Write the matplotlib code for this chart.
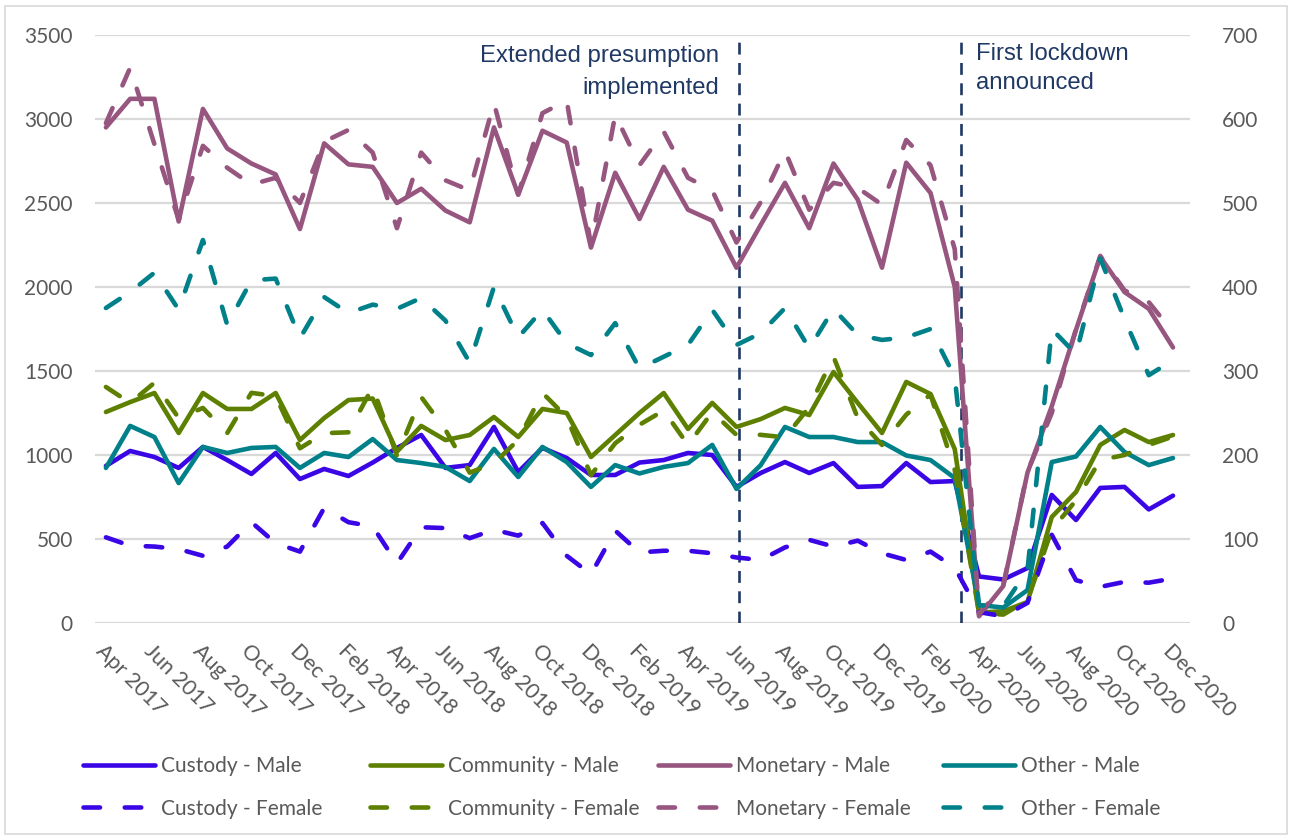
import matplotlib
matplotlib.use("Agg")
import matplotlib.pyplot as plt
from matplotlib.patches import Rectangle

# ---------------- data ----------------
months = ["Apr 2017", "May 2017", "Jun 2017", "Jul 2017", "Aug 2017", "Sep 2017", "Oct 2017", "Nov 2017",
          "Dec 2017", "Jan 2018", "Feb 2018", "Mar 2018", "Apr 2018", "May 2018", "Jun 2018", "Jul 2018",
          "Aug 2018", "Sep 2018", "Oct 2018", "Nov 2018", "Dec 2018", "Jan 2019", "Feb 2019", "Mar 2019",
          "Apr 2019", "May 2019", "Jun 2019", "Jul 2019", "Aug 2019", "Sep 2019", "Oct 2019", "Nov 2019",
          "Dec 2019", "Jan 2020", "Feb 2020", "Mar 2020", "Apr 2020", "May 2020", "Jun 2020", "Jul 2020",
          "Aug 2020", "Sep 2020", "Oct 2020", "Nov 2020", "Dec 2020"]

# Male series (left axis)
custody_male = [935, 1024, 988, 923, 1048, 970, 887, 1012, 857, 917, 875, 955, 1042, 1119, 923, 940,
                1167, 899, 1042, 982, 881, 881, 955, 970, 1012, 1000, 810, 893, 958, 893, 952, 810,
                815, 952, 839, 845, 277, 259, 327, 762, 613, 804, 810, 676, 758]
community_male = [1256, 1315, 1369, 1131, 1369, 1274, 1274, 1369, 1089, 1220, 1327, 1336, 1020, 1173, 1089, 1119,
                  1226, 1107, 1274, 1250, 988, 1119, 1250, 1369, 1155, 1310, 1167, 1214, 1280, 1238, 1494, 1310,
                  1131, 1435, 1363, 1035, 62, 70, 125, 631, 780, 1060, 1149, 1077, 1119]
monetary_male = [2950, 3120, 3120, 2390, 3060, 2825, 2735, 2670, 2345, 2855, 2730, 2715, 2500, 2585, 2455, 2385,
                 2950, 2550, 2930, 2860, 2235, 2680, 2405, 2715, 2460, 2395, 2115, 2370, 2620, 2350, 2735, 2520,
                 2115, 2740, 2560, 2000, 40, 220, 895, 1290, 1745, 2180, 1970, 1870, 1640]
other_male = [923, 1173, 1107, 833, 1048, 1012, 1042, 1048, 923, 1012, 988, 1095, 970, 952, 929, 845,
              1036, 869, 1048, 958, 810, 940, 890, 929, 952, 1060, 798, 940, 1167, 1107, 1107, 1077,
              1077, 997, 970, 863, 107, 92, 196, 958, 991, 1167, 1018, 940, 982]

# Female series (right axis)
custody_female = [102, 92, 91, 88, 80, 91, 120, 95, 85, 137, 120, 115, 71, 114, 113, 101,
                  111, 104, 119, 80, 58, 110, 84, 86, 86, 83, 78, 75, 90, 99, 91, 98,
                  83, 75, 85, 66, 13, 8, 24, 105, 51, 43, 49, 48, 53]
community_female = [281, 262, 286, 244, 256, 226, 274, 270, 208, 226, 227, 281, 199, 269, 230, 179,
                    190, 218, 274, 245, 176, 214, 236, 253, 212, 251, 224, 224, 221, 257, 317, 244,
                    212, 248, 272, 182, 12, 10, 27, 111, 146, 194, 200, 212, 222]
monetary_female = [595, 661, 570, 480, 568, 542, 522, 530, 500, 573, 587, 560, 470, 560, 527, 515,
                   619, 510, 607, 622, 450, 605, 545, 585, 530, 515, 453, 501, 562, 492, 524, 518,
                   498, 575, 545, 445, 10, 45, 180, 250, 350, 437, 396, 382, 346]
other_female = [375, 394, 417, 373, 456, 355, 408, 410, 339, 388, 369, 379, 374, 387, 360, 310,
                400, 340, 373, 333, 319, 357, 303, 317, 331, 373, 331, 345, 375, 327, 374, 343,
                337, 340, 350, 293, 21, 20, 63, 350, 320, 434, 362, 295, 313]

tick_labels = months[::2]

left_ticks = [0, 500, 1000, 1500, 2000, 2500, 3000, 3500]
right_ticks = [0, 100, 200, 300, 400, 500, 600, 700]

events = [("Extended presumption\nimplemented", 26.1), ("First lockdown\nannounced", 35.25)]

# ---------------- style ----------------
C_CUST = "#3A06E6"
C_COMM = "#5E8000"
C_MON = "#97567F"
C_OTH = "#00818A"
NAVY = "#1F3864"
GRAY = "#595959"
GRID = "#D9D9D9"
TICKFONT = "Lato"
ANNFONT = "Liberation Sans"

W, H = 1291, 838
fig = plt.figure(figsize=(W / 100, H / 100), dpi=100)
ax = fig.add_axes([95 / W, 1 - 623 / H, (1190 - 95) / W, (623 - 35) / H])
ax2 = ax.twinx()

x = list(range(len(months)))
LW = 3.3
dash = (0, (3.6, 5.4))

ax.set_zorder(1)
ax2.set_zorder(2)
ax.patch.set_visible(False)
ax2.patch.set_visible(False)

male = [(custody_male, C_CUST, "Custody - Male"), (community_male, C_COMM, "Community - Male"),
        (monetary_male, C_MON, "Monetary - Male"), (other_male, C_OTH, "Other - Male")]
female = [(custody_female, C_CUST, "Custody - Female"), (community_female, C_COMM, "Community - Female"),
          (monetary_female, C_MON, "Monetary - Female"), (other_female, C_OTH, "Other - Female")]

hm, hf = [], []
for vals, col, lab in male:
    l, = ax.plot(x, vals, color=col, lw=LW, solid_capstyle="round", solid_joinstyle="round", label=lab, zorder=3)
    hm.append(l)
for vals, col, lab in female:
    l, = ax2.plot(x, vals, color=col, lw=LW, linestyle=dash, dash_capstyle="round",
                  dash_joinstyle="round", label=lab, zorder=3)
    hf.append(l)

# event lines
for txt, xv in events:
    ax.axvline(xv, color=NAVY, lw=1.9, linestyle=(0, (4.5, 3.2)), zorder=2)

ax.annotate(events[0][0], xy=(events[0][1], 1), xycoords=ax.get_xaxis_transform(),
            xytext=(-14, -7.5), textcoords="offset points", ha="right", va="top",
            fontsize=17.2, color=NAVY, family=ANNFONT, linespacing=1.55, zorder=5)
ax.annotate(events[1][0], xy=(events[1][1], 1), xycoords=ax.get_xaxis_transform(),
            xytext=(11, -5.5), textcoords="offset points", ha="left", va="top",
            fontsize=17.2, color=NAVY, family=ANNFONT, linespacing=1.42, zorder=5)

# axes
ax.set_xlim(-0.45, 44.7)
ax.set_ylim(0, 3500)
ax2.set_ylim(0, 700)
ax.set_yticks(left_ticks)
ax2.set_yticks(right_ticks)
ax.set_xticks(x[::2])
ax.set_xticklabels(tick_labels)
ax.grid(axis="y", color=GRID, lw=1.6, zorder=0)
ax.set_axisbelow(True)
for a in (ax, ax2):
    for s in a.spines.values():
        s.set_visible(False)
ax.tick_params(axis="y", length=0, pad=16, labelsize=15, labelcolor=GRAY)
ax2.tick_params(axis="y", length=0, pad=23, labelsize=15, labelcolor=GRAY)
ax.tick_params(axis="x", length=0, pad=13, labelsize=15.5, labelcolor=GRAY)
for t in ax.get_yticklabels() + ax2.get_yticklabels() + ax.get_xticklabels():
    t.set_family(TICKFONT)
for t in ax.get_xticklabels():
    t.set_rotation(-45)
    t.set_ha("left")
    t.set_va("top")
    t.set_rotation_mode("anchor")

# legend: four columns of two rows
col_x = [83, 370, 658, 943]
for i in range(4):
    fig.legend(handles=[hm[i], hf[i]], labels=[male[i][2], female[i][2]], loc="upper left",
               bbox_to_anchor=(col_x[i] / W, 1 - 756 / H), frameon=False, borderpad=0, borderaxespad=0,
               handlelength=3.45, handletextpad=0.3, labelspacing=1.09,
               prop={"family": TICKFONT, "size": 15}, labelcolor=GRAY)

fig.add_artist(Rectangle((5 / W, 4 / H), (1287 - 5) / W, (832 - 4) / H, transform=fig.transFigure,
                         fill=False, ec=GRID, lw=1.2))

fig.savefig("out.png", dpi=100)
